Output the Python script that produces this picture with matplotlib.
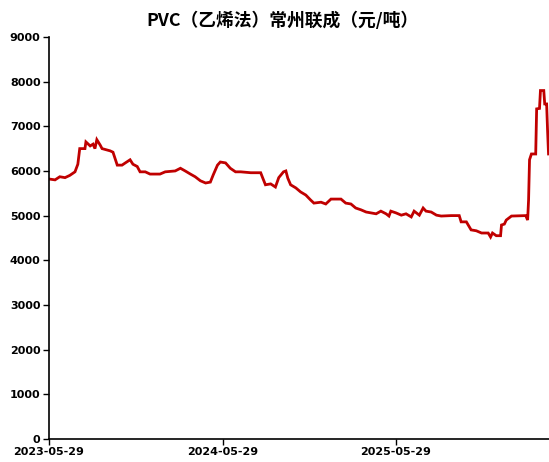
import matplotlib
matplotlib.use("Agg")
import matplotlib.pyplot as plt
import matplotlib.dates as mdates
import numpy as np

dates = [
    "2023-05-29", "2023-06-11", "2023-06-21", "2023-07-02", "2023-07-12", "2023-07-23",
    "2023-07-29", "2023-08-02", "2023-08-13", "2023-08-15", "2023-08-24", "2023-08-30",
    "2023-09-03", "2023-09-07", "2023-09-14", "2023-09-18", "2023-10-05", "2023-10-11",
    "2023-10-20", "2023-10-30", "2023-11-06", "2023-11-16", "2023-11-22", "2023-12-01",
    "2023-12-07", "2023-12-18", "2023-12-28", "2024-01-18", "2024-01-29", "2024-02-19",
    "2024-03-01", "2024-03-11", "2024-03-22", "2024-04-01", "2024-04-12", "2024-04-23",
    "2024-05-03", "2024-05-09", "2024-05-18", "2024-05-24", "2024-06-04", "2024-06-14",
    "2024-06-25", "2024-07-06", "2024-07-27", "2024-08-17", "2024-08-21", "2024-08-27",
    "2024-09-07", "2024-09-17", "2024-09-24", "2024-10-04", "2024-10-09", "2024-10-13",
    "2024-10-19", "2024-10-30", "2024-11-09", "2024-11-20", "2024-11-30", "2024-12-07",
    "2024-12-22", "2025-01-01", "2025-01-12", "2025-02-02", "2025-02-12", "2025-02-23",
    "2025-03-05", "2025-03-16", "2025-03-27", "2025-04-17", "2025-04-27", "2025-05-08",
    "2025-05-14", "2025-05-18", "2025-05-29", "2025-06-09", "2025-06-19", "2025-06-30",
    "2025-07-06", "2025-07-17", "2025-07-25", "2025-07-31", "2025-08-11", "2025-08-22",
    "2025-09-01", "2025-09-22", "2025-10-09", "2025-10-13", "2025-10-24", "2025-11-03",
    "2025-11-14", "2025-11-25", "2025-12-09", "2025-12-14", "2025-12-18", "2025-12-26",
    "2026-01-04", "2026-01-06", "2026-01-12", "2026-01-16", "2026-01-27", "2026-02-26",
    "2026-03-02", "2026-03-04", "2026-03-06", "2026-03-10", "2026-03-19", "2026-03-21",
    "2026-03-27", "2026-03-29", "2026-04-05", "2026-04-07", "2026-04-11", "2026-04-13",
    "2026-04-15",
]
prices = [
    5820, 5800, 5870, 5850, 5900, 5980,
    6150, 6500, 6500, 6650, 6560, 6600,
    6500, 6700, 6580, 6500, 6450, 6420,
    6130, 6130, 6180, 6250, 6150, 6100,
    5980, 5980, 5930, 5930, 5980, 6000,
    6060, 6000, 5930, 5870, 5780, 5730,
    5750, 5910, 6130, 6200, 6180, 6060,
    5980, 5980, 5960, 5960, 5850, 5690,
    5710, 5640, 5850, 5980, 6000, 5840,
    5690, 5620, 5530, 5460, 5350, 5280,
    5300, 5260, 5370, 5370, 5280, 5260,
    5170, 5130, 5080, 5040, 5100, 5040,
    4990, 5100, 5060, 5010, 5040, 4970,
    5100, 5010, 5170, 5100, 5080, 5010,
    4990, 5000, 5000, 4860, 4860, 4680,
    4660, 4610, 4610, 4520, 4610, 4550,
    4550, 4790, 4810, 4900, 4990, 5000,
    4900, 5350, 6250, 6380, 6380, 7390,
    7400, 7800, 7800, 7500, 7500, 6900,
    6380,
]
title = "PVC（乙烯法）常州联成（元/吨）"
xtick_dates = ["2023-05-29", "2024-05-29", "2025-05-29"]

x = np.array(dates, dtype="datetime64[D]")
y = np.array(prices)

plt.rcParams["font.family"] = ["Liberation Sans Narrow", "DejaVu Sans"]

fig = plt.figure(figsize=(5.49, 4.62), dpi=100)
ax = fig.add_axes([0.089, 0.05, 0.911, 0.87])

ax.plot(x, y, color="#C00000", linewidth=2.0, solid_joinstyle="miter")

ax.set_ylim(0, 9000)
ax.set_yticks(np.arange(0, 9001, 1000))
ax.set_xlim(x[0], x[-1] + np.timedelta64(1, "D"))
ax.set_xticks(np.array(xtick_dates, dtype="datetime64[D]"))
ax.xaxis.set_major_formatter(mdates.DateFormatter("%Y-%m-%d"))

for side in ("top", "right"):
    ax.spines[side].set_visible(False)
for side in ("left", "bottom"):
    ax.spines[side].set_linewidth(1.2)
    ax.spines[side].set_color("black")
ax.tick_params(axis="both", direction="out", length=4, width=1.0, labelsize=8, pad=2)
for lab in ax.get_xticklabels() + ax.get_yticklabels():
    lab.set_fontweight("bold")

fig.text(0.515, 0.955, title, ha="center", va="center", fontsize=12.8, fontweight="bold",
         family=["Noto Sans CJK SC", "DejaVu Sans"])

fig.savefig("out.png", dpi=100)
